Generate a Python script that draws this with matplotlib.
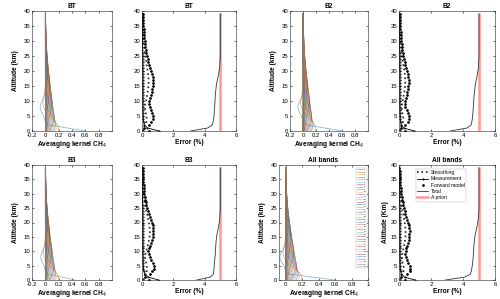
import numpy as np
import matplotlib
matplotlib.use("Agg")
import matplotlib.pyplot as plt

# ---------------- data ----------------
altitude = list(range(40))  # km
bands = ["BT", "B2", "B3", "All bands"]

# averaging kernel peak values per retrieval level 1..39
ak_peak = [0.20, 0.17, 0.155, 0.145, 0.14, 0.135, 0.13, 0.125, 0.12, 0.115,
           0.11, 0.105, 0.10, 0.095, 0.09, 0.085, 0.08, 0.075, 0.07, 0.065,
           0.06, 0.055, 0.05, 0.045, 0.04, 0.035, 0.031, 0.027, 0.024, 0.021,
           0.018, 0.015, 0.013, 0.011, 0.009, 0.008, 0.007, 0.006, 0.005]
ak_surface = {"BT": 0.6, "B2": 0.6, "B3": 0.45, "All bands": 0.6}
ak_neg_lobe = {"BT": -0.08, "B2": -0.08, "B3": -0.07, "All bands": -0.07}

# error profiles (%) at each altitude level 0..39 km
fwd = {
    "BT": [0.42, 0.15, 0.45, 0.60, 0.68, 0.70, 0.65, 0.56, 0.48, 0.45,
           0.46, 0.50, 0.56, 0.61, 0.65, 0.68, 0.70, 0.70, 0.68, 0.64,
           0.58, 0.52, 0.46, 0.41, 0.36, 0.31, 0.27, 0.24, 0.21, 0.18,
           0.16, 0.14, 0.12, 0.11, 0.10, 0.09, 0.08, 0.07, 0.06, 0.05],
    "B2": [0.35, 0.12, 0.40, 0.55, 0.62, 0.64, 0.58, 0.48, 0.40, 0.37,
           0.38, 0.42, 0.47, 0.52, 0.56, 0.59, 0.60, 0.60, 0.58, 0.55,
           0.50, 0.45, 0.40, 0.35, 0.31, 0.27, 0.24, 0.21, 0.18, 0.16,
           0.14, 0.12, 0.11, 0.10, 0.09, 0.08, 0.07, 0.06, 0.05, 0.04],
    "B3": [0.45, 0.20, 0.50, 0.66, 0.74, 0.75, 0.70, 0.60, 0.50, 0.42,
           0.40, 0.44, 0.50, 0.57, 0.63, 0.68, 0.71, 0.72, 0.71, 0.68,
           0.63, 0.57, 0.50, 0.44, 0.38, 0.32, 0.27, 0.23, 0.20, 0.17,
           0.15, 0.13, 0.11, 0.10, 0.09, 0.08, 0.07, 0.06, 0.05, 0.04],
    "All bands": [0.40, 0.15, 0.50, 0.66, 0.70, 0.66, 0.58, 0.48, 0.42, 0.40,
                  0.42, 0.46, 0.51, 0.56, 0.60, 0.63, 0.65, 0.66, 0.65, 0.62,
                  0.57, 0.51, 0.45, 0.40, 0.35, 0.30, 0.26, 0.22, 0.19, 0.16,
                  0.14, 0.12, 0.10, 0.09, 0.08, 0.07, 0.06, 0.05, 0.04, 0.03],
}
smooth = {
    "BT": [0.10, 0.08, 0.20, 0.28, 0.30, 0.28, 0.24, 0.20, 0.19, 0.21,
           0.25, 0.29, 0.33, 0.36, 0.39, 0.41, 0.42, 0.42, 0.41, 0.39,
           0.36, 0.33, 0.30, 0.27, 0.24, 0.21, 0.18, 0.16, 0.14, 0.12,
           0.10, 0.09, 0.08, 0.07, 0.06, 0.05, 0.05, 0.04, 0.03, 0.03],
    "B2": [0.10, 0.08, 0.18, 0.25, 0.27, 0.25, 0.21, 0.18, 0.17, 0.19,
           0.22, 0.26, 0.30, 0.33, 0.36, 0.38, 0.39, 0.39, 0.38, 0.36,
           0.33, 0.30, 0.27, 0.24, 0.21, 0.18, 0.16, 0.14, 0.12, 0.10,
           0.09, 0.08, 0.07, 0.06, 0.05, 0.05, 0.04, 0.04, 0.03, 0.03],
    "B3": [0.12, 0.10, 0.22, 0.30, 0.33, 0.30, 0.26, 0.22, 0.20, 0.22,
           0.27, 0.32, 0.37, 0.41, 0.45, 0.48, 0.50, 0.50, 0.49, 0.47,
           0.44, 0.40, 0.36, 0.32, 0.28, 0.24, 0.21, 0.18, 0.15, 0.13,
           0.11, 0.10, 0.08, 0.07, 0.06, 0.05, 0.05, 0.04, 0.03, 0.03],
    "All bands": [0.10, 0.08, 0.20, 0.28, 0.30, 0.28, 0.23, 0.19, 0.18, 0.20,
                  0.24, 0.28, 0.32, 0.35, 0.38, 0.40, 0.41, 0.41, 0.40, 0.38,
                  0.35, 0.32, 0.29, 0.26, 0.23, 0.20, 0.17, 0.15, 0.13, 0.11,
                  0.09, 0.08, 0.07, 0.06, 0.05, 0.05, 0.04, 0.04, 0.03, 0.03],
}
meas = {
    "BT": [1.10, 0.35, 0.15, 0.10, 0.08, 0.07, 0.06, 0.06, 0.05, 0.05,
           0.05, 0.05, 0.05, 0.05, 0.05, 0.05, 0.05, 0.05, 0.05, 0.05,
           0.05, 0.04, 0.04, 0.04, 0.04, 0.04, 0.04, 0.03, 0.03, 0.03,
           0.03, 0.03, 0.03, 0.03, 0.02, 0.02, 0.02, 0.02, 0.02, 0.02],
    "B2": [0.95, 0.30, 0.14, 0.10, 0.08, 0.07, 0.06, 0.06, 0.05, 0.05,
           0.05, 0.05, 0.05, 0.05, 0.05, 0.05, 0.05, 0.05, 0.05, 0.05,
           0.05, 0.04, 0.04, 0.04, 0.04, 0.04, 0.04, 0.03, 0.03, 0.03,
           0.03, 0.03, 0.03, 0.03, 0.02, 0.02, 0.02, 0.02, 0.02, 0.02],
    "B3": [1.05, 0.40, 0.18, 0.12, 0.09, 0.08, 0.07, 0.06, 0.06, 0.05,
           0.05, 0.05, 0.05, 0.05, 0.05, 0.05, 0.05, 0.05, 0.05, 0.05,
           0.05, 0.04, 0.04, 0.04, 0.04, 0.04, 0.04, 0.03, 0.03, 0.03,
           0.03, 0.03, 0.03, 0.03, 0.02, 0.02, 0.02, 0.02, 0.02, 0.02],
    "All bands": [1.00, 0.35, 0.15, 0.10, 0.08, 0.07, 0.06, 0.06, 0.05, 0.05,
                  0.05, 0.05, 0.05, 0.05, 0.05, 0.05, 0.05, 0.05, 0.05, 0.05,
                  0.05, 0.04, 0.04, 0.04, 0.04, 0.04, 0.04, 0.03, 0.03, 0.03,
                  0.03, 0.03, 0.03, 0.03, 0.02, 0.02, 0.02, 0.02, 0.02, 0.02],
}
total = {
    "BT": [3.10, 4.20, 4.48, 4.54, 4.57, 4.60, 4.61, 4.62, 4.64, 4.65,
           4.66, 4.67, 4.68, 4.70, 4.72, 4.74, 4.77, 4.81, 4.85, 4.89,
           4.92, 4.95, 4.97, 4.98, 4.99, 5.00, 5.00, 5.00, 5.00, 5.00,
           5.00, 5.00, 5.00, 5.00, 5.00, 5.00, 5.00, 5.00, 5.00, 5.00],
    "B2": [3.20, 4.25, 4.50, 4.55, 4.58, 4.60, 4.62, 4.63, 4.65, 4.66,
           4.67, 4.68, 4.70, 4.72, 4.74, 4.76, 4.79, 4.83, 4.87, 4.90,
           4.93, 4.96, 4.97, 4.98, 4.99, 5.00, 5.00, 5.00, 5.00, 5.00,
           5.00, 5.00, 5.00, 5.00, 5.00, 5.00, 5.00, 5.00, 5.00, 5.00],
    "B3": [3.50, 4.35, 4.55, 4.58, 4.60, 4.61, 4.62, 4.64, 4.66, 4.68,
           4.69, 4.70, 4.71, 4.72, 4.74, 4.76, 4.79, 4.83, 4.87, 4.90,
           4.93, 4.96, 4.97, 4.98, 4.99, 5.00, 5.00, 5.00, 5.00, 5.00,
           5.00, 5.00, 5.00, 5.00, 5.00, 5.00, 5.00, 5.00, 5.00, 5.00],
    "All bands": [2.90, 4.10, 4.45, 4.52, 4.55, 4.58, 4.60, 4.62, 4.64, 4.65,
                  4.66, 4.67, 4.68, 4.70, 4.72, 4.74, 4.77, 4.81, 4.85, 4.89,
                  4.92, 4.95, 4.97, 4.98, 4.99, 5.00, 5.00, 5.00, 5.00, 5.00,
                  5.00, 5.00, 5.00, 5.00, 5.00, 5.00, 5.00, 5.00, 5.00, 5.00],
}
apriori = [5.0] * 40

kernel_xticks = {"BT": [-0.2, 0, 0.2, 0.4, 0.6, 0.8], "B2": [-0.2, 0, 0.2, 0.4, 0.6, 0.8],
                 "B3": [-0.2, 0, 0.2, 0.4, 0.6, 0.8], "All bands": [0, 0.2, 0.4, 0.6, 0.8, 1]}
kernel_xlim = {"BT": (-0.2, 1.0), "B2": (-0.2, 1.0), "B3": (-0.2, 1.0), "All bands": (-0.08, 1.0)}
error_xticks = [0, 2, 4, 6]
alt_ticks = [0, 5, 10, 15, 20, 25, 30, 35, 40]

# ---------------- figure ----------------
W, H = 500, 299
fig = plt.figure(figsize=(W / 100, H / 100), dpi=100)
plt.rcParams['font.family'] = ['Liberation Sans', 'DejaVu Sans']

def ax_px(l, t, r, b):
    return fig.add_axes([l / W, 1 - b / H, (r - l) / W, (b - t) / H])

layout = {
    "BT": ((32, 11, 112, 131), (142, 11, 236, 131)),
    "B2": ((290, 11, 368, 131), (399, 11, 495, 131)),
    "B3": ((32, 165, 112, 280), (142, 165, 236, 280)),
    "All bands": ((279, 165, 368, 280), (399, 165, 495, 280)),
}
colors = ['#0072BD', '#D95319', '#EDB120', '#7E2F8E', '#77AC30', '#4DBEEE', '#A2142F']
z = np.array(altitude, dtype=float)
fs_tick = 4.3
fs_lab = 4.8

def style(ax):
    ax.tick_params(labelsize=fs_tick, length=1.5, width=0.4, pad=1.2, direction='in',
                   top=True, right=True)
    for s in ax.spines.values():
        s.set_linewidth(0.4)
        s.set_color('#262626')

for band in bands:
    (k_box, e_box) = layout[band]
    # --- averaging kernels
    ax = ax_px(*k_box)
    peaks = [ak_surface[band]] + ak_peak
    handles = []
    for j, zj in enumerate(altitude):
        if j == 0:
            prof = peaks[0] * np.exp(-(z / 1.3) ** 2) \
                + ak_neg_lobe[band] * np.exp(-((z - 8) / 2.8) ** 2)
        else:
            c = 0.75 * zj
            w = 4.0 + 0.25 * zj
            prof = peaks[j] * np.exp(-((z - c) / w) ** 2)
            if j == 1:
                prof = prof + 0.5 * ak_neg_lobe[band] * np.exp(-((z - 9) / 3.5) ** 2)
        h, = ax.plot(prof, z, color=colors[j % 7], lw=0.5, alpha=0.55)
        handles.append(h)
    ax.set_xlim(*kernel_xlim[band])
    ax.set_ylim(0, 40)
    ax.set_xticks(kernel_xticks[band])
    ax.set_xticklabels([f"{t:g}" for t in kernel_xticks[band]])
    ax.set_yticks(alt_ticks)
    ax.set_title(band, fontsize=fs_lab, fontweight='bold', pad=2)
    ax.set_xlabel("Averaging kernel CH$_4$", fontsize=fs_lab, fontweight='bold', labelpad=1)
    ax.set_ylabel("Altitude (km)", fontsize=fs_lab, fontweight='bold', labelpad=3)
    style(ax)
    if band == "All bands":
        leg = ax.legend(handles, [str(a + 1) for a in altitude], loc='upper right',
                        fontsize=1.6, handlelength=2.6, labelspacing=0.42,
                        borderpad=0.3, frameon=True, fancybox=False,
                        bbox_to_anchor=(1.0, 0.985), handletextpad=0.4)
        leg.get_frame().set_linewidth(0.3)
        leg.get_frame().set_edgecolor('#999999')

    # --- errors
    ax = ax_px(*e_box)
    l1, = ax.plot(smooth[band], z, ':', color='#222222', lw=1.2)
    l2, = ax.plot(meas[band], z, '-', color='k', lw=0.6, marker='.', ms=1.0)
    l3, = ax.plot(fwd[band], z, 'k.', ms=1.9, lw=0)
    l5, = ax.plot(apriori, z, '-', color='#FF9999', lw=1.8)
    l4, = ax.plot(total[band], z, '-', color='#333333', lw=0.6)
    ax.set_xlim(0, 6)
    ax.set_ylim(0, 40)
    ax.set_xticks(error_xticks)
    ax.set_yticks(alt_ticks)
    ax.set_title(band, fontsize=fs_lab, fontweight='bold', pad=2)
    ax.set_xlabel("Error (%)", fontsize=fs_lab, fontweight='bold', labelpad=1)
    style(ax)
    if band == "All bands":
        ax.set_ylabel("Altitude (Km)", fontsize=fs_lab, fontweight='bold', labelpad=1)
        lg = ax.legend([l1, l2, l3, l4, l5],
                       ["Smoothing", "Measurement", "Forward model", "Total", "A priori"],
                       loc='upper center', fontsize=3.6, handlelength=2.2, labelspacing=0.25,
                       borderpad=0.3, frameon=True, fancybox=False, handletextpad=0.5,
                       bbox_to_anchor=(0.44, 0.99))
        lg.get_frame().set_linewidth(0.3)
        lg.get_frame().set_edgecolor('#999999')

fig.savefig("out.png", dpi=100)
